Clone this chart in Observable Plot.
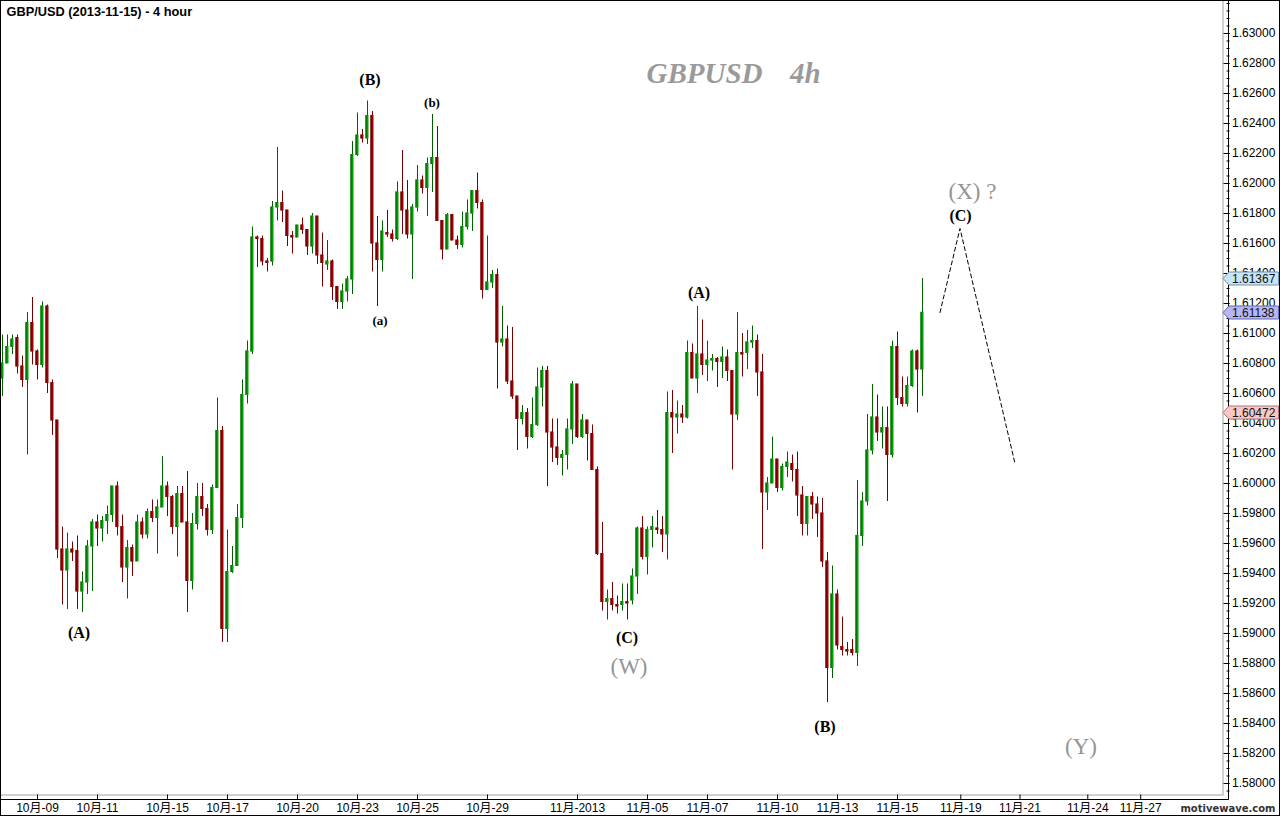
<!DOCTYPE html>
<html><head><meta charset="utf-8">
<script src="https://cdn.jsdelivr.net/npm/d3@7"></script>
<script src="https://cdn.jsdelivr.net/npm/@observablehq/plot@0.6"></script>
<style>
html,body{margin:0;padding:0;background:#fff;}
#chart{position:relative;width:1280px;height:816px;overflow:hidden;}
#chart svg{display:block;}
#border{position:absolute;left:0;top:0;width:1278px;height:814px;border:1px solid #000;pointer-events:none;}
</style></head>
<body><div id="chart"><div id="border"></div></div>
<script>
// ---- data (4-hour bars, index 0..184) ----
const opens = [
1.6070,1.6080,1.6091,1.6097,1.6078,1.6069,1.6107,1.6088,1.6079,1.6118,
1.6067,1.6042,1.5956,1.5942,1.5956,1.5955,1.5928,1.5934,1.5958,1.5974,
1.5970,1.5975,1.5979,1.5998,1.5971,1.5944,1.5957,1.5948,1.5974,1.5966,
1.5981,1.5977,1.5984,1.5998,1.5991,1.5971,1.5993,1.5974,1.5935,1.5973,
1.5991,1.5983,1.5969,1.5997,1.6035,1.5903,1.5941,1.5945,1.5977,1.6059,
1.6088,1.6164,1.6163,1.6148,1.6148,1.6184,1.6187,1.6182,1.6165,1.6164,
1.6172,1.6169,1.6158,1.6178,1.6152,1.6146,1.6148,1.6131,1.6121,1.6128,
1.6136,1.6219,1.6232,1.6230,1.6245,1.6160,1.6149,1.6167,1.6166,1.6163,
1.6194,1.6182,1.6166,1.6184,1.6202,1.6197,1.6213,1.6217,1.6175,1.6156,
1.6179,1.6162,1.6159,1.6171,1.6180,1.6195,1.6187,1.6129,1.6134,1.6139,
1.6094,1.6096,1.6068,1.6058,1.6043,1.6047,1.6031,1.6039,1.6064,1.6075,
1.6034,1.6024,1.6017,1.6019,1.6036,1.6066,1.6031,1.6042,1.6033,1.6009,
1.5953,1.5921,1.5923,1.5919,1.5919,1.5921,1.5922,1.5938,1.5970,1.5951,
1.5969,1.5970,1.5969,1.5966,1.6047,1.6044,1.6046,1.6044,1.6087,1.6070,
1.6086,1.6079,1.6082,1.6083,1.6081,1.6084,1.6075,1.6046,1.6087,1.6087,
1.6094,1.6095,1.6074,1.5994,1.6000,1.6016,1.5997,1.6011,1.6013,1.6009,
1.5992,1.5973,1.5991,1.5986,1.5980,1.5948,1.5877,1.5926,1.5891,1.5889,
1.5889,1.5887,1.5965,1.5988,1.6022,1.6044,1.6034,1.6037,1.6019,1.6091,
1.6057,1.6053,1.6065,1.6088,1.6076];
const highs = [
1.6099,1.6099,1.6099,1.6099,1.6085,1.6114,1.6124,1.6089,1.6121,1.6119,
1.6069,1.6042,1.5971,1.5967,1.5961,1.5965,1.5941,1.5962,1.5976,1.5979,
1.5978,1.5985,1.5998,1.6001,1.5979,1.5962,1.5959,1.5979,1.5977,1.5983,
1.5989,1.5989,1.6018,1.6001,1.5992,1.5998,1.5998,1.6008,1.5980,1.6000,
1.6000,1.5986,1.5999,1.6057,1.6038,1.5969,1.5958,1.5986,1.6069,1.6095,
1.6171,1.6165,1.6165,1.6150,1.6188,1.6224,1.6195,1.6182,1.6168,1.6172,
1.6177,1.6169,1.6180,1.6178,1.6167,1.6162,1.6149,1.6131,1.6133,1.6138,
1.6228,1.6247,1.6236,1.6255,1.6248,1.6178,1.6175,1.6182,1.6169,1.6201,
1.6222,1.6202,1.6186,1.6212,1.6205,1.6217,1.6246,1.6238,1.6175,1.6180,
1.6179,1.6165,1.6181,1.6189,1.6195,1.6207,1.6189,1.6165,1.6142,1.6143,
1.6118,1.6105,1.6104,1.6058,1.6052,1.6050,1.6057,1.6077,1.6078,1.6078,
1.6043,1.6043,1.6022,1.6043,1.6068,1.6066,1.6046,1.6042,1.6039,1.6011,
1.5974,1.5929,1.5934,1.5925,1.5933,1.5933,1.5943,1.5971,1.5978,1.5971,
1.5978,1.5982,1.5978,1.6061,1.6062,1.6055,1.6052,1.6095,1.6093,1.6118,
1.6109,1.6095,1.6086,1.6084,1.6091,1.6089,1.6075,1.6114,1.6100,1.6102,
1.6105,1.6099,1.6086,1.6004,1.6031,1.6016,1.6013,1.6021,1.6019,1.6021,
1.5998,1.5991,1.5994,1.5991,1.5990,1.5954,1.5945,1.5929,1.5911,1.5894,
1.5896,1.6002,1.5994,1.6046,1.6066,1.6059,1.6051,1.6051,1.6095,1.6101,
1.6071,1.6071,1.6089,1.6089,1.61367];
const lows = [
1.6058,1.6080,1.6086,1.6073,1.6064,1.6019,1.6079,1.6069,1.6077,1.6060,
1.6032,1.5950,1.5919,1.5916,1.5948,1.5916,1.5914,1.5926,1.5928,1.5958,
1.5961,1.5966,1.5974,1.5965,1.5934,1.5923,1.5938,1.5948,1.5963,1.5963,
1.5974,1.5953,1.5984,1.5978,1.5966,1.5951,1.5974,1.5914,1.5929,1.5969,
1.5978,1.5965,1.5966,1.5997,1.5894,1.5894,1.5940,1.5945,1.5970,1.6053,
1.6086,1.6144,1.6145,1.6141,1.6145,1.6175,1.6174,1.6158,1.6153,1.6164,
1.6166,1.6152,1.6153,1.6146,1.6131,1.6142,1.6122,1.6116,1.6116,1.6121,
1.6126,1.6218,1.6227,1.6226,1.6141,1.6118,1.6141,1.6164,1.6161,1.6162,
1.6166,1.6163,1.6136,1.6181,1.6193,1.6178,1.6194,1.6175,1.6149,1.6156,
1.6162,1.6156,1.6157,1.6169,1.6168,1.6183,1.6123,1.6129,1.6130,1.6063,
1.6091,1.6066,1.6056,1.6022,1.6039,1.6023,1.6030,1.6038,1.6051,1.5998,
1.6014,1.6012,1.6005,1.6009,1.6026,1.6030,1.6030,1.6015,1.6009,1.5952,
1.5915,1.5909,1.5915,1.5913,1.5915,1.5909,1.5919,1.5926,1.5949,1.5939,
1.5957,1.5966,1.5954,1.5949,1.6020,1.6033,1.6040,1.6043,1.6070,1.6060,
1.6072,1.6068,1.6075,1.6064,1.6070,1.6068,1.6009,1.6042,1.6071,1.6076,
1.6090,1.6058,1.5956,1.5982,1.6000,1.5994,1.5995,1.6004,1.6001,1.5978,
1.5965,1.5965,1.5976,1.5964,1.5944,1.5854,1.5870,1.5889,1.5885,1.5885,
1.5885,1.5878,1.5958,1.5985,1.6019,1.6028,1.6023,1.5988,1.6017,1.6052,
1.6051,1.6051,1.6064,1.6047,1.6058];
const closes = [
1.6080,1.6091,1.6096,1.6078,1.6069,1.6107,1.6088,1.6079,1.6118,1.6067,
1.6042,1.5956,1.5942,1.5956,1.5954,1.5928,1.5934,1.5958,1.5974,1.5970,
1.5975,1.5979,1.5998,1.5971,1.5944,1.5957,1.5948,1.5974,1.5966,1.5981,
1.5977,1.5984,1.5998,1.5991,1.5971,1.5993,1.5974,1.5935,1.5973,1.5991,
1.5983,1.5969,1.5997,1.6035,1.5903,1.5941,1.5945,1.5977,1.6059,1.6088,
1.6164,1.6163,1.6148,1.6147,1.6184,1.6187,1.6182,1.6165,1.6164,1.6172,
1.6169,1.6158,1.6178,1.6152,1.6147,1.6148,1.6131,1.6121,1.6128,1.6136,
1.6219,1.6232,1.6230,1.6245,1.6160,1.6149,1.6168,1.6166,1.6163,1.6194,
1.6182,1.6166,1.6184,1.6202,1.6197,1.6213,1.6217,1.6175,1.6156,1.6179,
1.6162,1.6159,1.6171,1.6180,1.6195,1.6187,1.6129,1.6134,1.6139,1.6094,
1.6096,1.6068,1.6058,1.6043,1.6047,1.6031,1.6039,1.6064,1.6075,1.6034,
1.6024,1.6017,1.6019,1.6036,1.6066,1.6031,1.6042,1.6033,1.6009,1.5953,
1.5921,1.5923,1.5919,1.5918,1.5921,1.5920,1.5938,1.5970,1.5951,1.5969,
1.5971,1.5969,1.5966,1.6047,1.6044,1.6046,1.6044,1.6087,1.6070,1.6086,
1.6079,1.6082,1.6083,1.6081,1.6084,1.6075,1.6046,1.6087,1.6086,1.6094,
1.6095,1.6074,1.5994,1.6000,1.6016,1.5997,1.6011,1.6014,1.6009,1.5992,
1.5973,1.5991,1.5986,1.5980,1.5948,1.5877,1.5926,1.5892,1.5889,1.5888,
1.5887,1.5965,1.5988,1.6022,1.6044,1.6034,1.6037,1.6019,1.6091,1.6057,
1.6053,1.6065,1.6088,1.6076,1.61138];

// x-axis ticks (bar index) and labels
const xTickIdx = [7,19,33,45,59,71,83,97,115,129,141,155,167,179,191.66,203.5,217.06,227.64];
const xTickLabels = ["10月-09","10月-11","10月-15","10月-17","10月-20","10月-23","10月-25","10月-29","11月-2013","11月-05","11月-07","11月-10","11月-13","11月-15","11月-19","11月-21","11月-24","11月-27"];
// y-axis ticks
const yTicks = [1.580,1.582,1.584,1.586,1.588,1.590,1.592,1.594,1.596,1.598,1.600,1.602,1.604,1.606,1.608,1.610,1.612,1.614,1.616,1.618,1.620,1.622,1.624,1.626,1.628,1.630];
// price tags on the axis
const tagValues = [1.61367, 1.61138, 1.60472];
const tagKinds = ["high", "last", "low"];

// Elliott wave labels (bar index, price)
const blackText = ["(A)","(B)","(C)","(A)","(B)","(C)"];
const blackIdx = [15.3, 73.5, 124.9, 139.3, 164.5, 191.6];
const blackPrice = [1.59007, 1.62693, 1.58973, 1.61273, 1.58380, 1.61787];
const smallText = ["(b)","(a)"];
const smallIdx = [85.9, 75.5];
const smallPrice = [1.62540, 1.61087];
const greyText = ["(W)","(X) ?","(Y)"];
const greyIdx = [125.3, 194.0, 215.7];
const greyPrice = [1.58780, 1.61947, 1.58247];
// projected path (dashed)
const projIdx = [187.5, 191.5, 202.5];
const projPrice = [1.6114, 1.6170, 1.60133];

const titleText = "GBP/USD (2013-11-15) - 4 hour";
const bigText = ["GBPUSD", "4h"];
const bigIdx = [128.8, 157.5];
const bigPrice = [1.62667, 1.62667];

// ---- build ----
const bars = opens.map((o, i) => ({i, open: o, high: highs[i], low: lows[i], close: closes[i], up: closes[i] >= o}));
const blackLabels = blackText.map((t, k) => ({t, i: blackIdx[k], p: blackPrice[k]}));
const smallLabels = smallText.map((t, k) => ({t, i: smallIdx[k], p: smallPrice[k]}));
const greyLabels = greyText.map((t, k) => ({t, i: greyIdx[k], p: greyPrice[k]}));
const proj = projIdx.map((i, k) => ({i, p: projPrice[k]}));
const big = bigText.map((t, k) => ({t, i: bigIdx[k], p: bigPrice[k]}));
const labelMap = new Map(xTickIdx.map((v, k) => [v, xTickLabels[k]]));
const minorTicks = d3.range(15795, 16325, 5).map(v => v / 10000);

const upFill = "#00a000", upWick = "#006000", upEdge = "#005a00";
const dnFill = "#a00000", dnWick = "#780000", dnEdge = "#5a0000";
const serif = "'Liberation Serif', 'Times New Roman', serif";
const sans = "'Liberation Sans', Arial, 'Noto Sans CJK SC', sans-serif";

const plot = Plot.plot({
  width: 1280, height: 816,
  marginLeft: 0, marginRight: 57.5, marginTop: 0, marginBottom: 21.5,
  x: {type: "linear", domain: [-0.4, 244.1], axis: null},
  y: {type: "linear", domain: [1.579233, 1.6322], axis: null},
  style: {fontFamily: sans, background: "white", color: "black"},
  marks: [
    Plot.frame({stroke: "#a4a49a"}),
    Plot.ruleX(bars, {x: "i", y1: "low", y2: "high", stroke: d => d.up ? upWick : dnWick, strokeWidth: 1}),
    Plot.rect(bars, {x1: d => d.i - 0.3, x2: d => d.i + 0.3, y1: "open", y2: "close",
      fill: d => d.up ? upFill : dnFill, insetTop: -0.5, insetBottom: -0.5}),
    Plot.rect(bars, {x1: d => d.i - 0.3, x2: d => d.i - 0.1, y1: "open", y2: "close",
      fill: d => d.up ? upEdge : dnEdge, insetTop: -0.5, insetBottom: -0.5}),
    Plot.line(proj, {x: "i", y: "p", stroke: "black", strokeWidth: 1, strokeDasharray: "4,3"}),
    Plot.text(blackLabels, {x: "i", y: "p", text: "t", fill: "black", fontSize: 16, fontWeight: "bold", fontFamily: serif, textAnchor: "middle", lineAnchor: "middle"}),
    Plot.text(smallLabels, {x: "i", y: "p", text: "t", fill: "black", fontSize: 13, fontWeight: "bold", fontFamily: serif, textAnchor: "middle", lineAnchor: "middle"}),
    Plot.text(greyLabels, {x: "i", y: "p", text: "t", fill: "#959595", fontSize: 23, fontFamily: serif, textAnchor: "middle", lineAnchor: "middle"}),
    Plot.text(big, {x: "i", y: "p", text: "t", fill: "#9a9a9a", fontSize: 29, fontWeight: "bold", fontStyle: "italic", fontFamily: serif, textAnchor: "start", lineAnchor: "bottom"}),
    Plot.text([titleText], {frameAnchor: "top-left", dx: 6, dy: 6, text: d => d, fontSize: 12.8, fontWeight: "bold", fill: "black", textAnchor: "start", lineAnchor: "top", fontFamily: sans}),
    Plot.text(["motivewave.com"], {frameAnchor: "bottom-right", dx: 52.5, dy: 14, text: d => d, fontSize: 10, fontWeight: "bold", fill: "#333", textAnchor: "end", lineAnchor: "middle", fontFamily: "'DejaVu Sans', sans-serif", letterSpacing: "0.6px"}),
    Plot.axisY(minorTicks, {anchor: "right", tickSize: 3, dx: 3, tickFormat: () => "", label: null, stroke: "black"}),
    Plot.axisY(yTicks, {anchor: "right", tickSize: 6, tickPadding: 3, tickFormat: d3.format(".5f"), fontSize: 12, label: null, stroke: "black", fill: "black", fontFamily: sans}),
    Plot.axisX(xTickIdx, {anchor: "bottom", tickSize: 5, tickPadding: 3, tickFormat: d => labelMap.get(d), fontSize: 12, label: null, stroke: "black", fill: "black", fontFamily: sans})
  ]
});

document.getElementById("chart").insertBefore(plot, document.getElementById("border"));

// axis lines and price tags (positioned through the plot's own scales)
const svg = d3.select(plot);
const ys = plot.scale("y");
const xs = plot.scale("x");
const fx = xs.range[1];      // frame right
const fy = ys.range[0];      // frame bottom
const ax = fx + 6;
const ayb = fy + 5;
svg.append("line").attr("x1", ax).attr("x2", ax).attr("y1", 0).attr("y2", ayb).attr("stroke", "black");
svg.append("line").attr("x1", 0).attr("x2", ax).attr("y1", ayb).attr("y2", ayb).attr("stroke", "black");

const tagStyle = {
  high: {fill: "#c9e4f4", stroke: "#6f93ad"},
  last: {fill: "#b6b6f6", stroke: "#6666b0"},
  low:  {fill: "#f6c8c8", stroke: "#b27474"}
};
const tagG = svg.append("g").attr("text-anchor", "start");
tagValues.forEach((v, k) => {
  const y = Math.round(ys.apply(v)) + 0.5;
  const st = tagStyle[tagKinds[k]];
  const x0 = fx + 0.5, x1 = x0 + 6, x2 = 1278.5;
  tagG.append("path")
    .attr("d", `M${x0},${y} L${x1},${y - 6.5} L${x2},${y - 6.5} L${x2},${y + 6.5} L${x1},${y + 6.5} Z`)
    .attr("fill", st.fill).attr("stroke", st.stroke);
  tagG.append("text").attr("x", x1 + 3).attr("y", y + 4.3)
    .attr("text-anchor", "start")
    .attr("font-family", sans).attr("font-size", 12).attr("fill", "#111")
    .text(d3.format(".5f")(v));
});
</script>
</body></html>
